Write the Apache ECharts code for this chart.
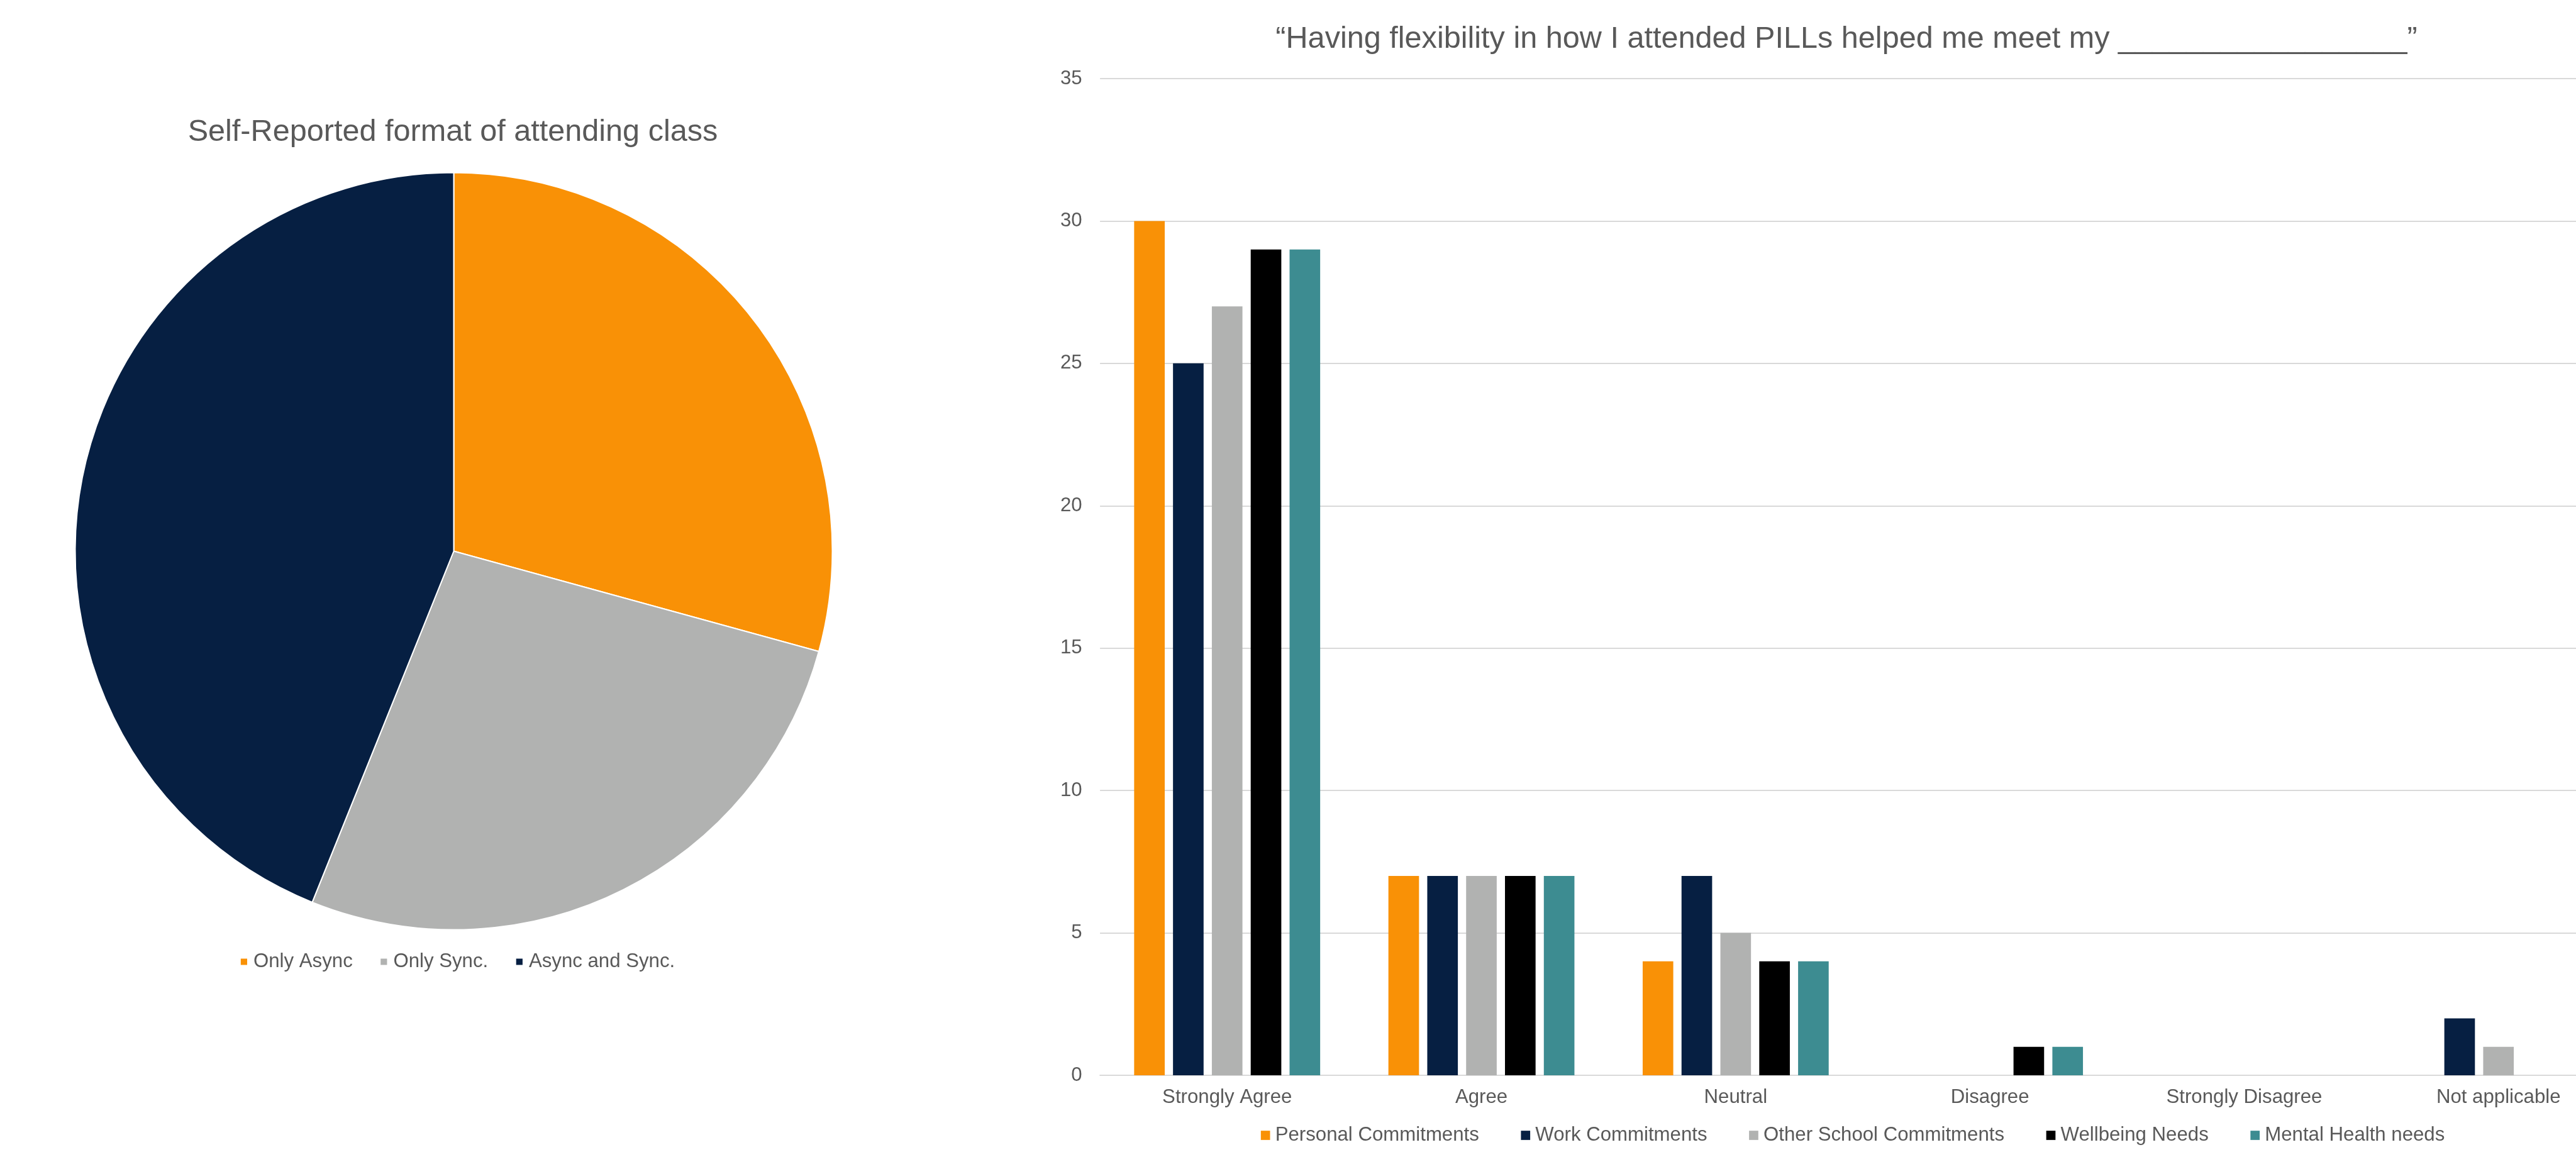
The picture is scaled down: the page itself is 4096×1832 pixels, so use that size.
<!DOCTYPE html>
<html>
<head>
<meta charset="utf-8">
<script src="https://cdn.jsdelivr.net/npm/echarts@6/dist/echarts.min.js"></script>
<style>
  html, body { margin: 0; padding: 0; background: #ffffff; }
  #chart { width: 4096px; height: 1832px; }
</style>
</head>
<body>
<div id="chart"></div>
<script>
// ---- data ----
const pieTitle = 'Self-Reported format of attending class';
const pieCategories = ['Only Async', 'Only Sync.', 'Async and Sync.'];
const pieValues = [12, 11, 18];

const barTitle = '\u201CHaving flexibility in how I attended PILLs helped me meet my _________________\u201D';
const barCategories = ['Strongly Agree', 'Agree', 'Neutral', 'Disagree', 'Strongly Disagree', 'Not applicable'];
const seriesNames = ['Personal Commitments', 'Work Commitments', 'Other School Commitments', 'Wellbeing Needs', 'Mental Health needs'];
const personalCommitments = [30, 7, 4, 0, 0, 0];
const workCommitments = [25, 7, 7, 0, 0, 2];
const otherSchoolCommitments = [27, 7, 5, 0, 0, 1];
const wellbeingNeeds = [29, 7, 4, 1, 0, 0];
const mentalHealthNeeds = [29, 7, 4, 1, 0, 0];
const yMin = 0, yMax = 35, yInterval = 5;

// ---- styles ----
const FONT = '"Liberation Sans", Arial, sans-serif';
const TXT = '#595959';
const pieColors = ['#F99106', '#B1B2B1', '#061F42'];
const barColors = ['#F99106', '#061F42', '#B1B2B1', '#000000', '#3D8C91'];

const barData = [personalCommitments, workCommitments, otherSchoolCommitments, wellbeingNeeds, mentalHealthNeeds];

const chart = echarts.init(document.getElementById('chart'), null, { renderer: 'canvas' });

const option = {
  animation: false,
  backgroundColor: '#ffffff',
  textStyle: { fontFamily: FONT },
  title: [
    {
      text: pieTitle,
      left: 720, top: 210.5,
      padding: 0,
      textAlign: 'center', textVerticalAlign: 'middle',
      textStyle: { fontFamily: FONT, fontSize: 48.6, fontWeight: 'normal', color: TXT }
    },
    {
      text: barTitle,
      left: 2936, top: 62.7,
      padding: 0,
      textAlign: 'center', textVerticalAlign: 'middle',
      textStyle: { fontFamily: FONT, fontSize: 48.6, fontWeight: 'normal', color: TXT }
    }
  ],
  legend: [
    {
      data: pieCategories,
      left: 380.8, top: 1514,
      padding: 0,
      itemWidth: 12.2, itemHeight: 12.2,
      itemGap: 42.5,
      icon: 'rect',
      selectedMode: false,
      textStyle: { fontFamily: FONT, fontSize: 31.2, color: TXT, padding: [0, 0, 0, 4] }
    },
    {
      data: seriesNames,
      left: 2004.8, top: 1790,
      padding: 0,
      itemWidth: 14.7, itemHeight: 14.7,
      itemGap: 66.6,
      icon: 'rect',
      selectedMode: false,
      textStyle: { fontFamily: FONT, fontSize: 31.2, color: TXT, padding: [0, 0, 0, 3.2] }
    }
  ],
  grid: {
    left: 1749.1, top: 125, height: 1585, width: 2425.8,
    containLabel: false,
    outerBoundsMode: 'none'
  },
  xAxis: {
    type: 'category',
    data: barCategories,
    axisLine: { show: true, lineStyle: { color: '#D9D9D9', width: 2 } },
    axisTick: { show: false },
    axisLabel: { color: TXT, fontFamily: FONT, fontSize: 31.2, margin: 20, interval: 0 },
    splitLine: { show: false }
  },
  yAxis: {
    type: 'value',
    min: yMin, max: yMax, interval: yInterval,
    axisLine: { show: false },
    axisTick: { show: false },
    axisLabel: { color: TXT, fontFamily: FONT, fontSize: 31.2, margin: 28.4 },
    splitLine: { show: true, lineStyle: { color: '#D9D9D9', width: 2 } }
  },
  series: [
    {
      type: 'pie',
      name: 'format',
      center: [721.5, 876.5],
      radius: 602,
      startAngle: 90,
      clockwise: true,
      label: { show: false },
      labelLine: { show: false },
      emphasis: { disabled: true },
      itemStyle: { borderColor: '#ffffff', borderWidth: 2 },
      data: pieCategories.map((n, i) => ({ name: n, value: pieValues[i], itemStyle: { color: pieColors[i] } }))
    }
  ].concat(seriesNames.map((n, i) => ({
    type: 'bar',
    name: n,
    data: barData[i],
    barWidth: 48.65,
    barGap: '27%',
    itemStyle: { color: barColors[i] },
    emphasis: { disabled: true }
  })))
};

chart.setOption(option);
</script>
</body>
</html>
